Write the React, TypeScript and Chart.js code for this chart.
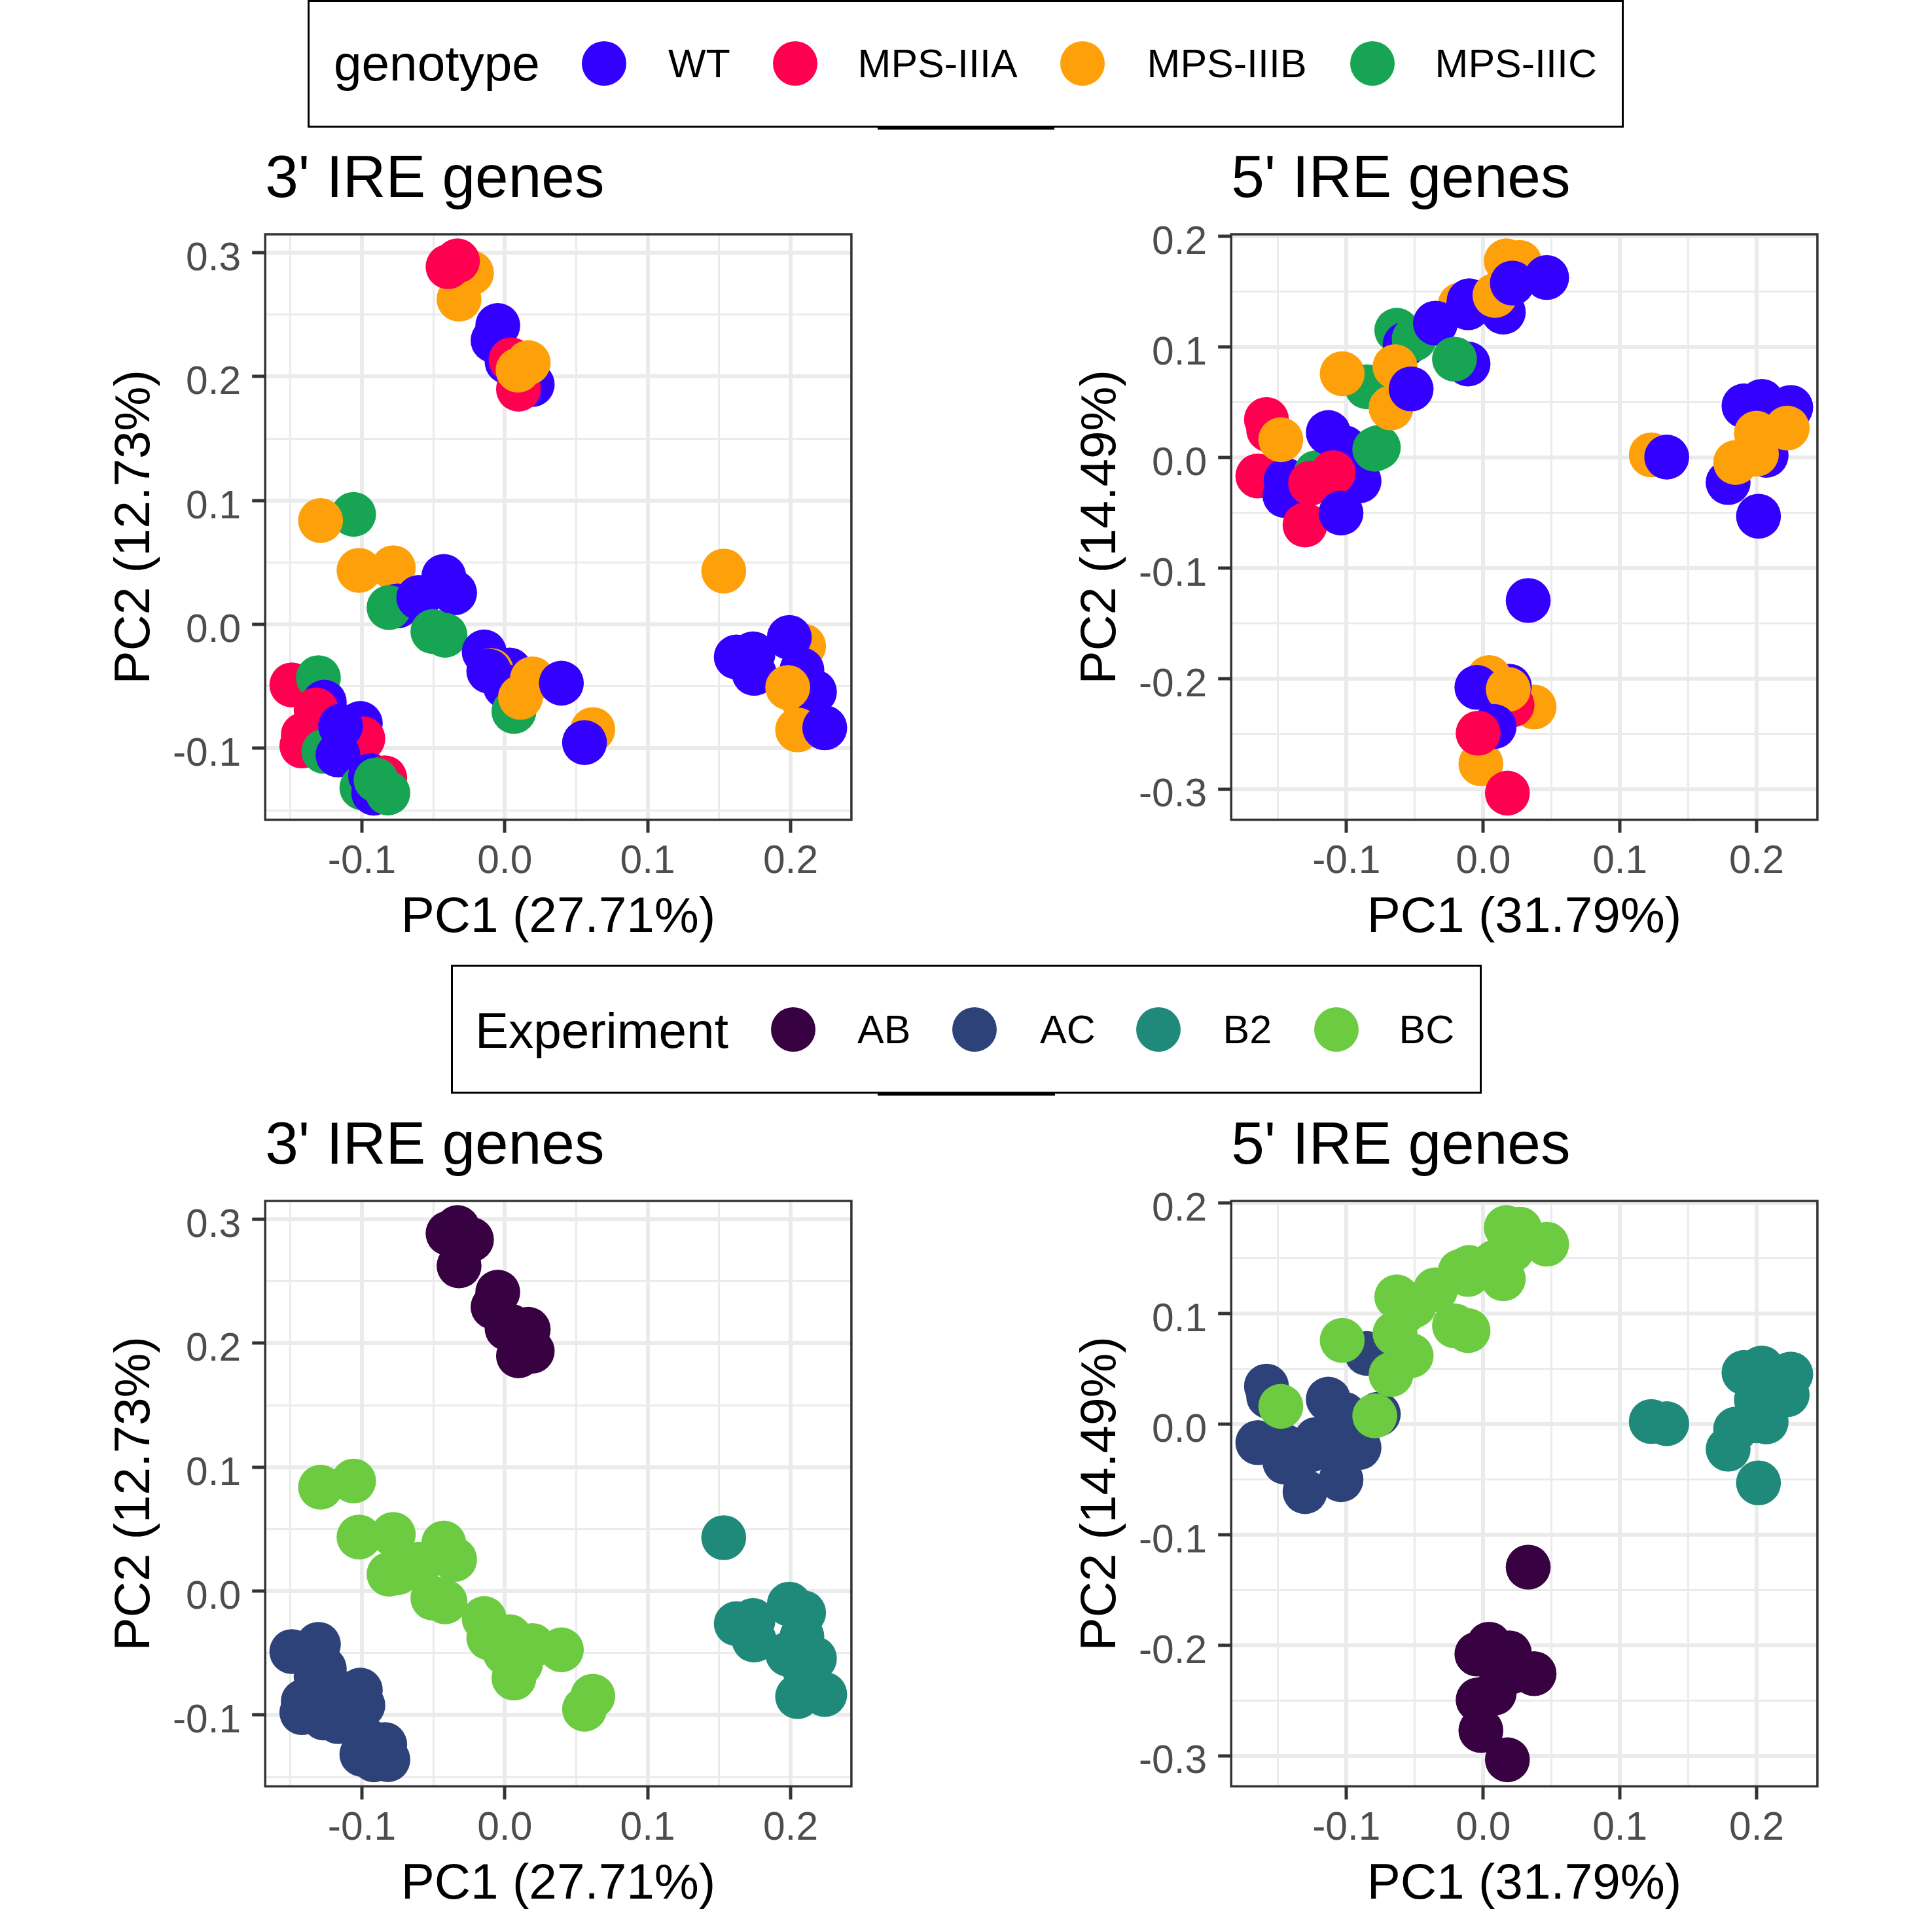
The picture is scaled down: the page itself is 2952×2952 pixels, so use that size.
import React, { useEffect, useRef } from "react";
import { Chart, registerables } from "chart.js";

Chart.register(...registerables);

const FONT = "'Liberation Sans', Arial, Helvetica, sans-serif";

// ---------- legend levels & colours ----------
const genotypeLevels = ["WT", "MPS-IIIA", "MPS-IIIB", "MPS-IIIC"];
const genotypeColors = ["#3300FF", "#FF0050", "#FEA00A", "#17A553"];
const experimentLevels = ["AB", "AC", "B2", "BC"];
const experimentColors = ["#380142", "#2D4278", "#1F8A79", "#6CCB41"];

// ---------- 3' IRE genes PCA (draw order = row order) ----------
const ire3PC1 = [
  -0.0233, -0.032, -0.0397, -0.0331, -0.0082, -0.0049, 0.0192, 0.0016, 0.0044, 0.0096, 0.0164, 0.0093,
  -0.149, -0.1304, -0.1263, -0.132, -0.141, -0.142, -0.1266, -0.1011, -0.0993, -0.1167, -0.1149, -0.1, -0.0939, -0.084, -0.0917, -0.0901, -0.0818,
  -0.1058, -0.1289, -0.078, -0.102, -0.0749, -0.081, -0.0427, -0.0351, -0.0602, -0.0503, -0.0418, -0.0144, 0.0034, -0.0095, -0.0112, 0.0004, 0.0064, 0.0193, 0.011, 0.0396, 0.0616, 0.0558,
  0.1532, 0.162, 0.1737, 0.1745, 0.2091, 0.1991, 0.2079, 0.2094, 0.2167, 0.198, 0.2049, 0.2239,
];
const ire3PC2 = [
  0.2836, 0.2624, 0.2886, 0.2933, 0.2292, 0.2412, 0.1936, 0.2119, 0.2135, 0.1898, 0.2112, 0.2052,
  -0.0488, -0.043, -0.0627, -0.069, -0.089, -0.098, -0.1024, -0.0799, -0.0922, -0.1053, -0.082, -0.1317, -0.122, -0.1238, -0.1361, -0.1255, -0.136,
  0.0888, 0.0838, 0.0457, 0.0436, 0.015, 0.0136, 0.0387, 0.0255, 0.0217, -0.0057, -0.0087, -0.0222, -0.0368, -0.0372, -0.0377, -0.05, -0.0702, -0.0439, -0.0588, -0.0474, -0.0848, -0.0953,
  0.0431, -0.0263, -0.0237, -0.0395, -0.0175, -0.0105, -0.0368, -0.0623, -0.0544, -0.0509, -0.0851, -0.0834,
];
const ire3Genotype = [
  "MPS-IIIB", "MPS-IIIB", "MPS-IIIA", "MPS-IIIA", "WT", "WT", "WT", "WT", "MPS-IIIA", "MPS-IIIA", "MPS-IIIB", "MPS-IIIB",
  "MPS-IIIA", "MPS-IIIC", "WT", "MPS-IIIA", "MPS-IIIA", "MPS-IIIA", "MPS-IIIC", "WT", "MPS-IIIA", "WT", "WT", "MPS-IIIC", "WT", "MPS-IIIA", "WT", "MPS-IIIC", "MPS-IIIC",
  "MPS-IIIC", "MPS-IIIB", "MPS-IIIB", "MPS-IIIB", "WT", "MPS-IIIC", "WT", "WT", "WT", "MPS-IIIC", "MPS-IIIC", "WT", "WT", "MPS-IIIB", "WT", "WT", "MPS-IIIC", "MPS-IIIB", "MPS-IIIB", "WT", "MPS-IIIB", "WT",
  "MPS-IIIB", "WT", "WT", "WT", "MPS-IIIB", "WT", "WT", "MPS-IIIB", "WT", "MPS-IIIB", "MPS-IIIB", "WT",
];
const ire3Experiment = [
  ...Array(12).fill("AB"),
  ...Array(17).fill("AC"),
  ...Array(22).fill("BC"),
  ...Array(12).fill("B2"),
];

// ---------- 5' IRE genes PCA ----------
const ire5PC1 = [
  -0.1585, -0.1569, -0.1648, -0.1442, -0.145, -0.122, -0.1133, -0.1015, -0.0767, -0.0908, -0.1097, -0.1262, -0.1303, -0.104, -0.0851,
  -0.148, -0.0793, -0.0168, -0.0103, -0.0111, 0.0147, 0.0086, 0.0169, 0.0267, 0.0213, 0.0464, -0.0632, -0.0571, -0.0505, -0.0349, -0.0111, -0.021, -0.0645, -0.0674, -0.0527, -0.1031,
  0.0372, 0.0211, 0.0191, 0.0043, -0.0046, 0.0183, -0.0017, 0.008, -0.0037, 0.0177, 0.0329,
  0.1229, 0.1342, 0.2037, 0.2249, 0.1907, 0.2069, 0.1791, 0.2223, 0.1998, 0.1998, 0.1846, 0.2013,
];
const ire5PC2 = [
  0.0342, 0.0248, -0.0169, -0.0208, -0.0346, -0.0139, 0.0224, 0.0087, 0.0089, -0.0214, -0.0139, -0.0234, -0.0612, -0.0504, 0.0638,
  0.0159, 0.0073, 0.138, 0.1415, 0.1352, 0.1313, 0.1464, 0.1776, 0.1762, 0.1576, 0.1626, 0.1149, 0.1021, 0.1071, 0.1213, 0.0844, 0.0888, 0.0819, 0.0447, 0.0618, 0.0756,
  -0.2258, -0.224, -0.207, -0.1992, -0.2081, -0.2099, -0.2772, -0.2435, -0.2495, -0.3037, -0.1295,
  0.0022, 0.0002, 0.0506, 0.0451, 0.0465, 0.0018, -0.0228, 0.0264, 0.0218, 0.0028, -0.0047, -0.0533,
];
const ire5Genotype = [
  "MPS-IIIA", "MPS-IIIA", "MPS-IIIA", "WT", "WT", "MPS-IIIC", "WT", "WT", "MPS-IIIC", "WT", "MPS-IIIA", "MPS-IIIA", "MPS-IIIA", "WT", "MPS-IIIC",
  "MPS-IIIB", "MPS-IIIC", "MPS-IIIB", "WT", "WT", "WT", "MPS-IIIB", "MPS-IIIB", "MPS-IIIB", "WT", "WT", "MPS-IIIC", "WT", "MPS-IIIC", "WT", "WT", "MPS-IIIC", "MPS-IIIB", "MPS-IIIB", "WT", "MPS-IIIB",
  "MPS-IIIB", "MPS-IIIA", "WT", "MPS-IIIB", "WT", "MPS-IIIB", "MPS-IIIB", "WT", "MPS-IIIA", "MPS-IIIA", "WT",
  "MPS-IIIB", "WT", "WT", "WT", "WT", "WT", "WT", "MPS-IIIB", "MPS-IIIB", "MPS-IIIB", "MPS-IIIB", "WT",
];
const ire5Experiment = [
  ...Array(15).fill("AC"),
  ...Array(21).fill("BC"),
  ...Array(11).fill("AB"),
  ...Array(12).fill("B2"),
];

// ---------- layout constants ----------
const CANVAS_W = 1470;
const CANVAS_H = 1249;
const PAD_LEFT = 150;
const Y_AXIS_W = 255.2;
const PLOT_RIGHT = 1300.9;
const PLOT_TOP = 158;
const PLOT_BOTTOM = 1052.5;
const X_AXIS_H = CANVAS_H - PLOT_BOTTOM;

const TITLE_SIZE = 91;
const AXIS_TITLE_SIZE = 76.5;
const TICK_SIZE = 60.5;
const LEGEND_TITLE_SIZE = 76.5;
const LEGEND_LABEL_SIZE = 61;

const expandRange = (v: number[]) => {
  const mn = Math.min(...v);
  const mx = Math.max(...v);
  const pad = (mx - mn) * 0.05;
  return [mn - pad, mx + pad];
};
const gridTicks = (min: number, max: number) => {
  const out: { value: number }[] = [];
  for (let k = Math.ceil(min * 20 - 1e-9); k <= Math.floor(max * 20 + 1e-9); k++) out.push({ value: k / 20 });
  return out;
};
const isMajor = (v: number) => Math.round(v * 20) % 2 === 0;
const fmt = (v: number) => {
  const k = Math.round(v * 20);
  if (k % 2 !== 0) return "";
  const val = k / 20;
  return (val === 0 ? 0 : val).toFixed(1);
};

const gridOpts = {
  color: "#EBEBEB",
  lineWidth: (c: any) => (c.tick ? (isMajor(c.tick.value) ? 6 : 3) : 0),
  tickColor: (c: any) => (c.tick && isMajor(c.tick.value) ? "#333333" : "rgba(0,0,0,0)"),
  tickWidth: 5,
  tickLength: 20,
  drawTicks: true,
};

const panelBorder = {
  id: "panelBorder",
  afterDraw(chart: any) {
    const { ctx, chartArea: a } = chart;
    ctx.save();
    ctx.strokeStyle = "#333333";
    ctx.lineWidth = 3.5;
    ctx.strokeRect(a.left, a.top, a.right - a.left, a.bottom - a.top);
    ctx.restore();
  },
};

type Spec = {
  left: number;
  top: number;
  pc1: number[];
  pc2: number[];
  groups: string[];
  levels: string[];
  colors: string[];
  title: string;
  xTitle: string;
  yTitle: string;
};

function buildConfig(s: Spec): any {
  const [xmin, xmax] = expandRange(s.pc1);
  const [ymin, ymax] = expandRange(s.pc2);
  const cols = s.groups.map((g) => s.colors[s.levels.indexOf(g)]);
  const tickFont = { family: FONT, size: TICK_SIZE, lineHeight: 1.2 };
  const axisTitleFont = { family: FONT, size: AXIS_TITLE_SIZE, lineHeight: 1.2 };
  const titleLH = TITLE_SIZE * 1.2;
  const titlePadTop = 100.6 - 0.276 * TITLE_SIZE - titleLH / 2;
  const tickLH = TICK_SIZE * 1.2;
  const xTickPad = 1133.7 - 0.276 * TICK_SIZE - tickLH / 2 - 20 - PLOT_BOTTOM;
  const axLH = AXIS_TITLE_SIZE * 1.2;
  const xTitlePadBottom = CANVAS_H - axLH / 2 - (1223.8 - 0.276 * AXIS_TITLE_SIZE);
  const yTitlePadTop = 228 - 0.276 * AXIS_TITLE_SIZE - axLH / 2 - PAD_LEFT;
  return {
    type: "scatter",
    data: {
      datasets: [
        {
          data: s.pc1.map((x, i) => ({ x, y: s.pc2[i] })),
          pointRadius: 34.3,
          pointHoverRadius: 34.3,
          pointBorderWidth: 0,
          pointHoverBorderWidth: 0,
          pointBackgroundColor: cols,
          pointBorderColor: cols,
          pointHoverBackgroundColor: cols,
          clip: 0,
        },
      ],
    },
    options: {
      responsive: false,
      maintainAspectRatio: false,
      animation: false,
      devicePixelRatio: 1,
      events: [],
      layout: { padding: { left: PAD_LEFT, right: CANVAS_W - PLOT_RIGHT, top: 0, bottom: 0 } },
      plugins: {
        legend: { display: false },
        tooltip: { enabled: false },
        title: {
          display: true,
          text: s.title,
          align: "start",
          position: "top",
          fullSize: false,
          color: "#000000",
          font: { family: FONT, size: TITLE_SIZE, weight: "normal", lineHeight: 1.2 },
          padding: { top: titlePadTop, bottom: PLOT_TOP - titleLH - titlePadTop },
        },
      },
      scales: {
        x: {
          type: "linear",
          position: "bottom",
          min: xmin,
          max: xmax,
          afterBuildTicks: (sc: any) => {
            sc.ticks = gridTicks(sc.min, sc.max);
          },
          afterFit: (sc: any) => {
            sc.height = X_AXIS_H;
          },
          border: { display: false },
          grid: gridOpts,
          ticks: {
            autoSkip: false,
            maxRotation: 0,
            minRotation: 0,
            padding: xTickPad,
            color: "#4D4D4D",
            font: tickFont,
            callback: (v: any) => fmt(Number(v)),
          },
          title: {
            display: true,
            text: s.xTitle,
            color: "#000000",
            font: axisTitleFont,
            padding: { top: 0, bottom: xTitlePadBottom },
          },
        },
        y: {
          type: "linear",
          position: "left",
          min: ymin,
          max: ymax,
          afterBuildTicks: (sc: any) => {
            sc.ticks = gridTicks(sc.min, sc.max);
          },
          afterFit: (sc: any) => {
            sc.width = Y_AXIS_W;
          },
          border: { display: false },
          grid: gridOpts,
          ticks: {
            autoSkip: false,
            padding: 17,
            labelOffset: 10.2,
            color: "#4D4D4D",
            font: tickFont,
            callback: (v: any) => fmt(Number(v)),
          },
          title: {
            display: true,
            text: s.yTitle,
            color: "#000000",
            font: axisTitleFont,
            padding: { top: yTitlePadTop, bottom: 0 },
          },
        },
      },
    },
    plugins: [panelBorder],
  };
}

function Panel({ spec }: { spec: Spec }) {
  const ref = useRef<HTMLCanvasElement>(null);
  useEffect(() => {
    const chart = new Chart(ref.current as HTMLCanvasElement, buildConfig(spec));
    return () => chart.destroy();
  }, [spec]);
  return (
    <canvas
      ref={ref}
      width={CANVAS_W}
      height={CANVAS_H}
      style={{ position: "absolute", left: spec.left, top: spec.top, width: CANVAS_W, height: CANVAS_H }}
    />
  );
}

const panels: Spec[] = [
  { left: 0, top: 200, pc1: ire3PC1, pc2: ire3PC2, groups: ire3Genotype, levels: genotypeLevels, colors: genotypeColors, title: "3' IRE genes", xTitle: "PC1 (27.71%)", yTitle: "PC2 (12.73%)" },
  { left: 1476, top: 200, pc1: ire5PC1, pc2: ire5PC2, groups: ire5Genotype, levels: genotypeLevels, colors: genotypeColors, title: "5' IRE genes", xTitle: "PC1 (31.79%)", yTitle: "PC2 (14.49%)" },
  { left: 0, top: 1677, pc1: ire3PC1, pc2: ire3PC2, groups: ire3Experiment, levels: experimentLevels, colors: experimentColors, title: "3' IRE genes", xTitle: "PC1 (27.71%)", yTitle: "PC2 (12.73%)" },
  { left: 1476, top: 1677, pc1: ire5PC1, pc2: ire5PC2, groups: ire5Experiment, levels: experimentLevels, colors: experimentColors, title: "5' IRE genes", xTitle: "PC1 (31.79%)", yTitle: "PC2 (14.49%)" },
];

// ---------- HTML legends ----------
type LegendSpec = {
  box: { left: number; top: number; width: number; height: number };
  title: string;
  titleX: number;
  titleBaseline: number;
  labels: string[];
  colors: string[];
  circleX: number[];
  circleY: number;
  labelX: number[];
  labelBaseline: number;
  bar: { left: number; top: number; width: number; height: number };
};

const legends: LegendSpec[] = [
  {
    box: { left: 470, top: 0, width: 2011, height: 195 },
    title: "genotype",
    titleX: 510,
    titleBaseline: 124,
    labels: genotypeLevels,
    colors: genotypeColors,
    circleX: [923, 1214.6, 1654.4, 2096.7],
    circleY: 97,
    labelX: [1021, 1310.6, 1752.6, 2192.6],
    labelBaseline: 119,
    bar: { left: 1341, top: 194.5, width: 270, height: 3 },
  },
  {
    box: { left: 689, top: 1474, width: 1575, height: 197 },
    title: "Experiment",
    titleX: 726,
    titleBaseline: 1601.7,
    labels: experimentLevels,
    colors: experimentColors,
    circleX: [1212, 1489, 1770, 2042],
    circleY: 1573.3,
    labelX: [1310, 1589, 1868.6, 2137.6],
    labelBaseline: 1595,
    bar: { left: 1341, top: 1670.5, width: 271, height: 3 },
  },
];

const ASC = 0.8465;

function Text({ x, baseline, size, text }: { x: number; baseline: number; size: number; text: string }) {
  return (
    <div
      style={{
        position: "absolute",
        left: x,
        top: baseline - ASC * size,
        fontFamily: FONT,
        fontSize: size,
        lineHeight: `${size}px`,
        color: "#000",
        whiteSpace: "nowrap",
      }}
    >
      {text}
    </div>
  );
}

function Legend({ l }: { l: LegendSpec }) {
  return (
    <>
      <div
        style={{
          position: "absolute",
          left: l.box.left,
          top: l.box.top,
          width: l.box.width,
          height: l.box.height,
          border: "3px solid #000",
          boxSizing: "border-box",
          background: "#fff",
        }}
      />
      <div style={{ position: "absolute", left: l.bar.left, top: l.bar.top, width: l.bar.width, height: l.bar.height, background: "#000" }} />
      <Text x={l.titleX} baseline={l.titleBaseline} size={LEGEND_TITLE_SIZE} text={l.title} />
      {l.labels.map((lab, i) => (
        <React.Fragment key={lab}>
          <div
            style={{
              position: "absolute",
              left: l.circleX[i] - 34,
              top: l.circleY - 34,
              width: 68,
              height: 68,
              borderRadius: "50%",
              background: l.colors[i],
            }}
          />
          <Text x={l.labelX[i]} baseline={l.labelBaseline} size={LEGEND_LABEL_SIZE} text={lab} />
        </React.Fragment>
      ))}
    </>
  );
}

export default function App() {
  return (
    <div style={{ position: "absolute", left: 0, top: 0, width: 2952, height: 2952, background: "#ffffff", overflow: "hidden" }}>
      {panels.map((p, i) => (
        <Panel key={i} spec={p} />
      ))}
      {legends.map((l, i) => (
        <Legend key={i} l={l} />
      ))}
    </div>
  );
}
